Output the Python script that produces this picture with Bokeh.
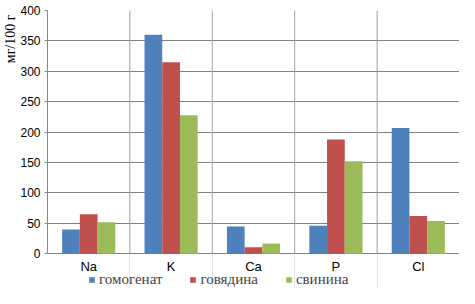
import numpy as np
from bokeh.plotting import figure
from bokeh.models import (ColumnDataSource, FixedTicker, Legend, LegendItem, Title, Range1d)
from bokeh.core.properties import value
from bokeh.embed import file_html
from bokeh.resources import INLINE

elements = ["Na", "K", "Ca", "P", "Cl"]
homogenate = [40, 360, 45, 46, 207]
beef = [65, 315, 11, 188, 62]
pork = [52, 228, 17, 152, 54]
series_names = ["гомогенат", "говядина", "свинина"]
colors = ["#4F81BD", "#C0504D", "#9BBB59"]
y_ticks = [0, 50, 100, 150, 200, 250, 300, 350, 400]
y_label = "мг/100 г"

idx = np.arange(len(elements))
centers = idx + 0.5
bar_w = 0.215
offsets = [-bar_w, 0.0, bar_w]
y_max = max(y_ticks)

# frame extends below zero to host the category labels and the legend
p = figure(width=459, height=288, x_range=Range1d(0, len(elements)),
           y_range=Range1d(-57, y_max), x_axis_location=None,
           output_backend="svg", toolbar_location=None,
           min_border_left=42, min_border_right=0, min_border_top=10, min_border_bottom=0)
p.background_fill_color = "white"
p.border_fill_color = "white"
p.outline_line_color = None

# horizontal grid
p.ygrid.ticker = FixedTicker(ticks=y_ticks)
p.ygrid.grid_line_color = "#7F7F7F"

# vertical category separators, limited to the value area
bounds_x = list(range(len(elements) + 1))
sep_src = ColumnDataSource(dict(x=bounds_x, y0=[0] * len(bounds_x), y1=[y_max] * len(bounds_x)))
p.segment(x0="x", y0="y0", x1="x", y1="y1", source=sep_src,
          line_color="#A6A6A6", line_width=1)

items = []
for vals, name, col, off in zip([homogenate, beef, pork], series_names, colors, offsets):
    src = ColumnDataSource(dict(x=centers + off, top=vals))
    r = p.vbar(x="x", top="top", width=bar_w, bottom=0, source=src,
               fill_color=col, line_color=None)
    items.append(LegendItem(label=name, renderers=[r]))

# category labels under the zero line
lab_src = ColumnDataSource(dict(x=centers, y=[-21] * len(elements), text=elements))
p.text(x="x", y="y", text="text", source=lab_src, text_align="center",
       text_baseline="middle", text_font=value("Liberation Sans"),
       text_font_size="13px", text_color="#000000")

# y axis
p.yaxis.ticker = FixedTicker(ticks=y_ticks)
p.yaxis.bounds = (0, y_max)
p.yaxis.axis_line_color = "#868686"
p.yaxis.major_tick_line_color = "#868686"
p.yaxis.major_tick_out = 3
p.yaxis.major_tick_in = 0
p.yaxis.minor_tick_line_color = None
p.yaxis.major_label_standoff = 4
p.yaxis.major_label_text_font = "Liberation Sans"
p.yaxis.major_label_text_font_size = "12px"
p.yaxis.major_label_text_color = "#000000"

# y label as side title aligned to top
p.add_layout(Title(text=y_label, align="right", text_font="Liberation Serif",
                   text_font_size="14px", text_font_style="normal", text_color="#000000",
                   standoff=0, offset=4), "left")

legend = Legend(items=items, orientation="horizontal", location=(41, 0),
                label_text_font="Liberation Serif", label_text_font_size="15px",
                glyph_width=7, glyph_height=7, label_standoff=4, spacing=27,
                border_line_color=None, background_fill_alpha=0,
                padding=1, margin=0, label_height=14)
p.add_layout(legend, "center")

open("out.html", "w").write(file_html(p, INLINE))
